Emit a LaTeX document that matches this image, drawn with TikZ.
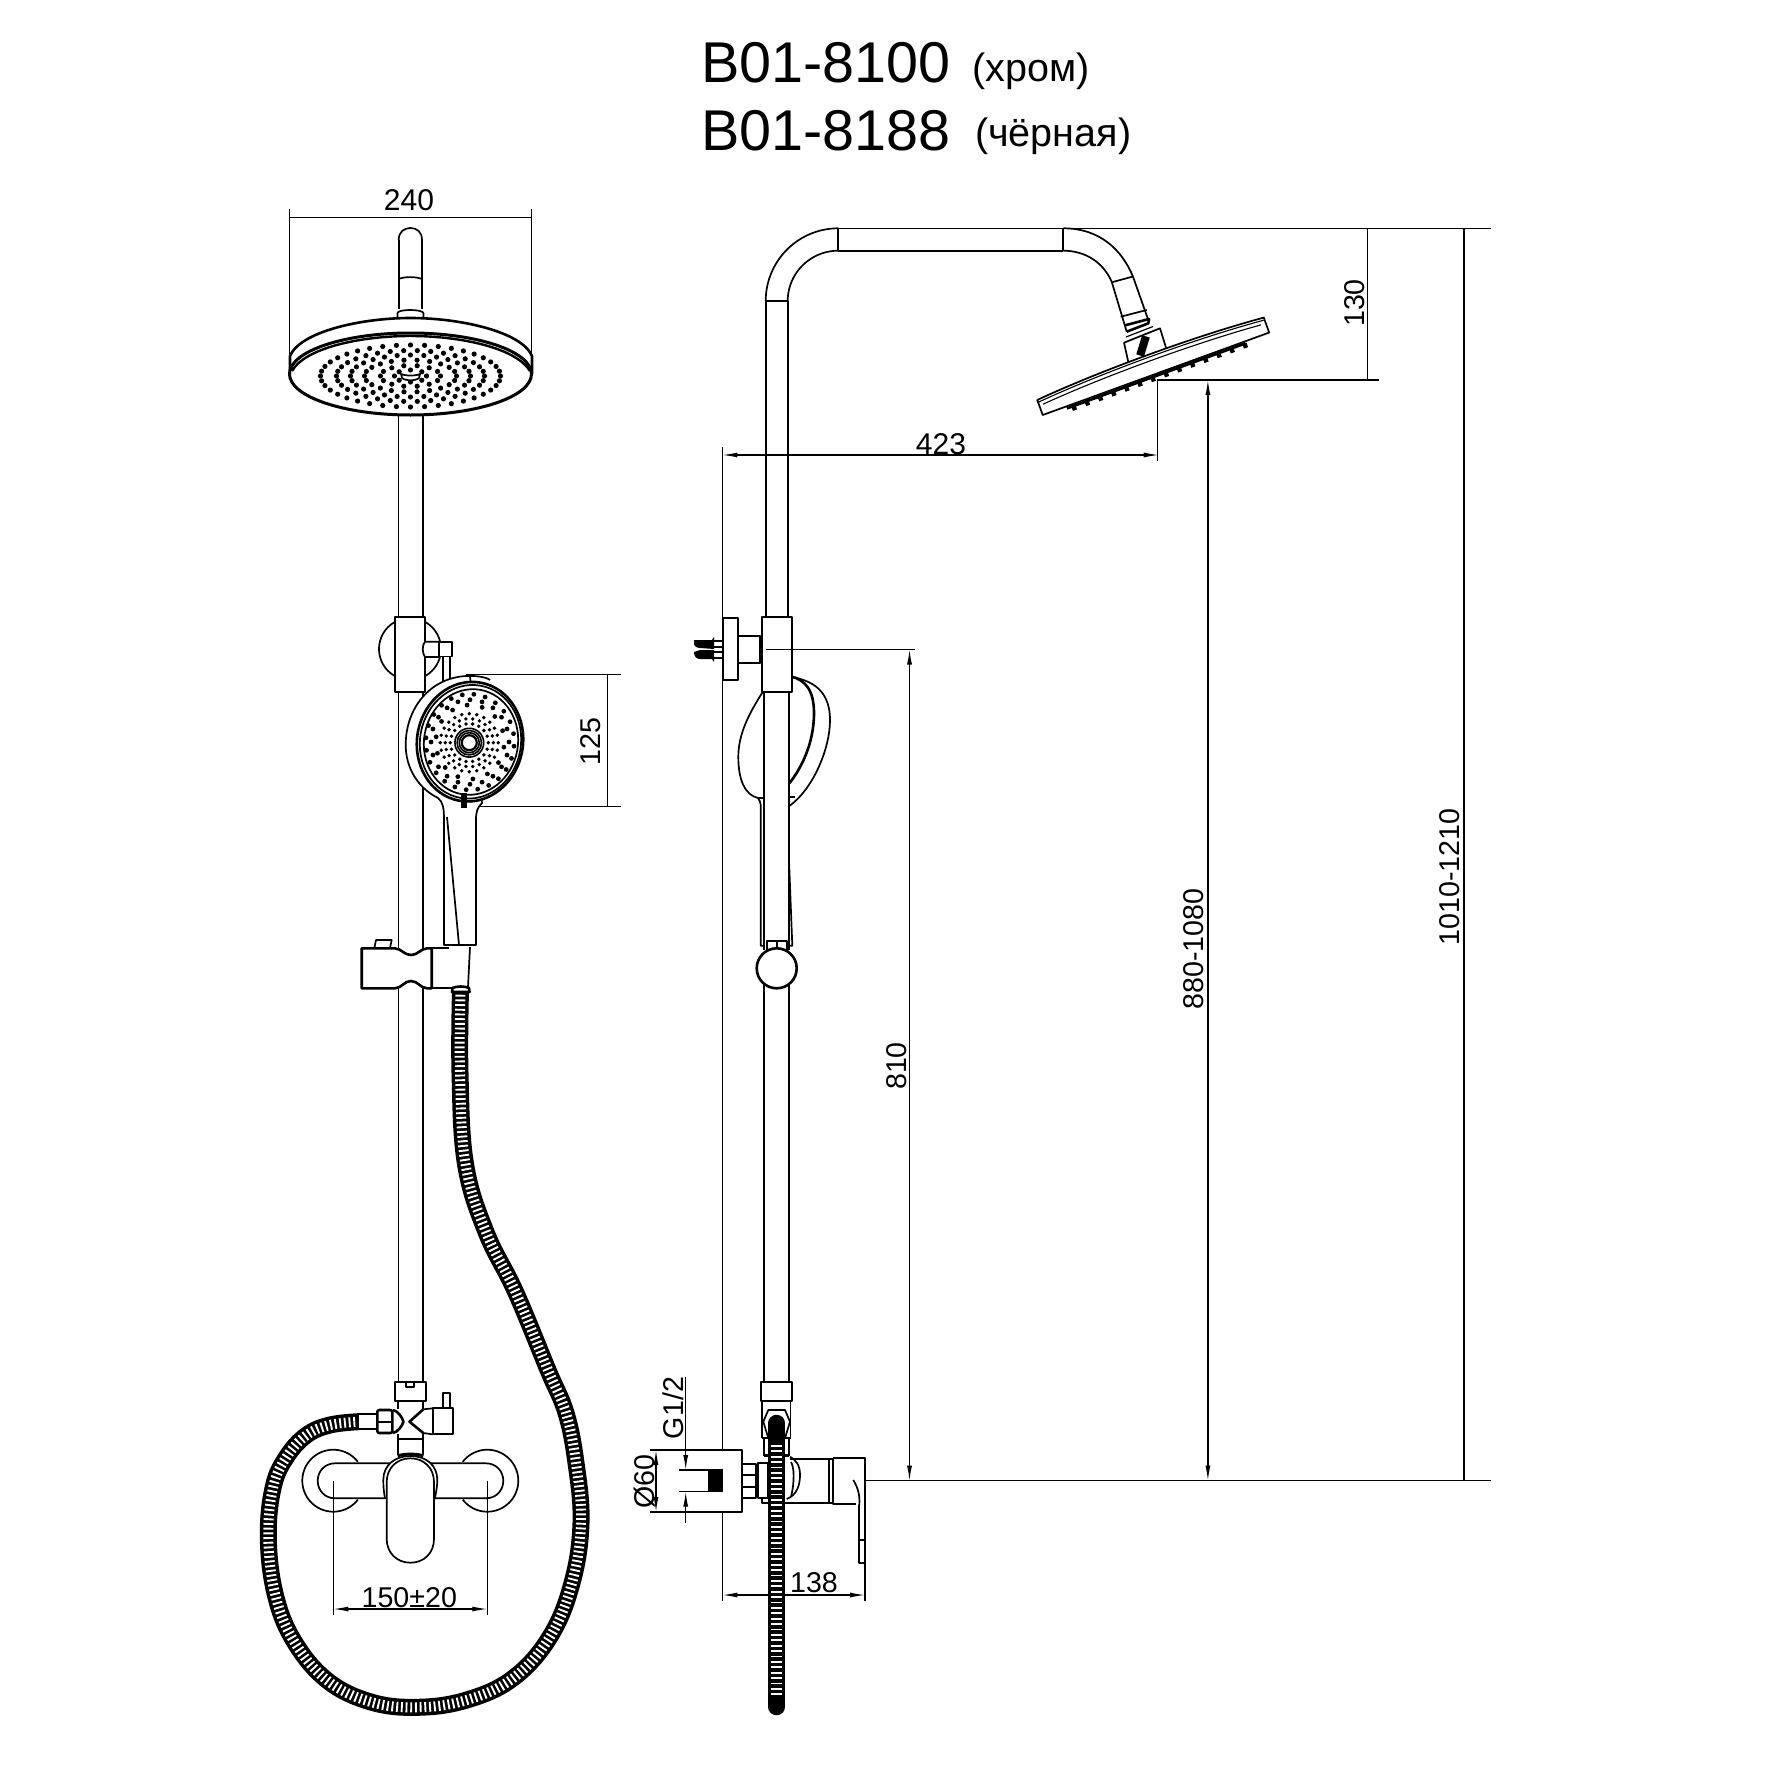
\documentclass[tikz,border=0pt]{standalone}
\usepackage{fontspec}
\setmainfont{Liberation Sans}
\usetikzlibrary{arrows.meta}
\tikzset{
  dim/.style={line width=1.2pt},
  arr/.style={line width=1.2pt,{Latex[length=15pt,width=5pt]}-{Latex[length=15pt,width=5pt]}},
  arrone/.style={line width=1.2pt,-{Latex[length=15pt,width=5pt]}},
  obj/.style={line width=1.7pt,line join=round},
  thick obj/.style={line width=2.6pt,line join=round},
  lab/.style={inner sep=0pt,font=\fontsize{28.6}{28.6}\selectfont},
  title/.style={inner sep=0pt,anchor=base west,font=\fontsize{57.5}{57.5}\selectfont},
  sub/.style={inner sep=0pt,anchor=base west,font=\fontsize{39.5}{39.5}\selectfont},
  wf/.style={fill=white}
}
\def\hosepath{plot[smooth,tension=.65] coordinates {(460.5,990) (460,1073) (465.5,1164) (486,1232) (515.6,1292) (548,1370) (566,1413) (576,1463) (581,1523) (572,1583) (550,1636.7) (513.3,1678) (466.7,1700) (416.7,1707.3) (370,1701.7) (326.7,1680) (293.3,1640) (275,1593.3) (268.3,1536.7) (273.3,1486.7) (286.7,1456.7) (306.7,1435) (330,1425) (358.3,1421.7)}}
\begin{document}
\begin{tikzpicture}[x=1pt,y=-1pt]
\useasboundingbox (0,0) rectangle (1768,1768);
\fill[white] (0,0) rectangle (1768,1768);
% Titles
\node[title] (t1) at (701,83) {B01-8100};
\node[title] (t2) at (701,151) {B01-8188};
\node[sub] (s1) at (972,82) {(хром)};
\node[sub] (s2) at (975,147) {(чёрная)};

%% ---------- FRONT VIEW ----------
% rod
\draw[obj] (398.7,240) -- (398.7,309) (422,240) -- (422,309);
\draw[obj] (398.7,240) .. controls (398.7,232) and (404,228) .. (410.4,228) .. controls (417,228) and (422,232) .. (422,240);
\draw[obj] (398.7,279) .. controls (404,276.5) and (416,276.5) .. (422,279);
\draw[obj] (397.5,317) -- (397.5,313) .. controls (398,309) and (422,309) .. (423.5,313) -- (423.5,317);
\draw[obj] (398.5,415) -- (398.5,1382) (423,415) -- (423,1382);
% back of head
\draw[thick obj,wf] (290,374) -- (290,356) .. controls (300,332) and (360,318) .. (410.5,318) .. controls (461,318) and (522,332) .. (532,356) -- (532,374);
\draw[thick obj,wf,line width=3pt] (410.5,374) ellipse[x radius=121,y radius=41];
\draw[line width=2.4pt] (292,371) .. controls (305,348) and (360,336) .. (410.5,336) .. controls (461,336) and (516,348) .. (530,371);
% head nozzles
\foreach \rx/\ry/\n in {90/31/40,74/25.5/34,60/21/28,46/16/22,30/10.5/14,16/6/8}{
  \foreach \k in {1,...,\n}{
    \fill ({410.5+\rx*cos(360*\k/\n)},{376+\ry*sin(360*\k/\n)}) circle[radius=2.6];
  }
}
\draw[obj,wf] (401,374) -- (402,378) .. controls (405,381) and (416,381) .. (419,378) -- (420,374) .. controls (416,376) and (405,376) .. (401,374);
% bracket disc and clamp
\draw[obj] (410,649) circle[radius=31];
\draw[obj,wf] (395.3,617.3) rectangle (425,691.7);
\draw[obj,wf] (425,641.7) -- (439,641.7) -- (439,657) -- (425,657) .. controls (422,653) and (422,645) .. (425,641.7);
\draw[obj,wf] (442.7,656) rectangle (450,685);
\draw[obj,wf] (439,641.7) rectangle (452,656.5);
% hand shower, front
\draw[obj,wf] (466,676) .. controls (430,678) and (405.7,708) .. (405.7,745) .. controls (405.7,768) and (418,788) .. (438,798) .. controls (443,802) and (444,808) .. (444,820) -- (444,945) -- (476,945) -- (476,820) .. controls (476,812) and (477,808) .. (482,803) -- (470,676) -- cycle;
\draw[obj] (447,817) -- (459,945);
\draw[obj] (444,945) -- (449,945);
\draw[thick obj,wf,rotate around={-10:(470,741.7)}] (470,741.7) ellipse[x radius=53,y radius=60];
\draw[obj,rotate around={-10:(470,741.7)}] (470.5,741.7) ellipse[x radius=50.5,y radius=57];
\draw[obj,rotate around={-10:(471,742)}] (471,742) ellipse[x radius=47,y radius=53];
\draw[obj] (466,676) .. controls (476,675.5) and (486,677) .. (490,680);
\fill (461,793) rectangle (466.7,808);
\foreach \r/\n/\s in {19/18/1.9,24/22/1.9,29/24/1.9}{
  \foreach \k in {1,...,\n}{
    \fill ({469.3+\r*cos(360*\k/\n)},{742.7+\r*sin(360*\k/\n)}) circle[radius=\s];
  }
}
\foreach \r/\n/\o in {36/14/8,41/20/0,46.5/24/5}{
  \foreach \k in {1,...,\n}{
    \fill ({470+\r*0.95*cos(360*\k/\n+\o)},{742+\r*1.03*sin(360*\k/\n+\o)}) circle[radius=2.4];
  }
}
\foreach \r in {10,12.2,14.4}{\draw[line width=1.6pt] (469.3,742.7) circle[radius=\r];}
\draw[line width=2.2pt] (469.3,742.7) circle[radius=7.5];
% slider
\draw[obj] (374,950) -- (376,940) -- (391.7,940) -- (390,948) .. controls (386,951) and (378,951) .. (374,950);
\draw[thick obj,wf] (361.7,948.3) -- (395,948.3) .. controls (402,949) and (404,955) .. (411,955) .. controls (418,955) and (420,949) .. (427,948.3) -- (431.7,948.3) -- (431.7,988.3) -- (427,988.3) .. controls (420,988) and (418,981) .. (411,981) .. controls (404,981) and (402,988) .. (395,988.3) -- (361.7,988.3) -- cycle;
\draw[obj] (431.7,948.3) -- (449,948.3) (431.7,988.3) -- (452,988.3);
\draw[obj] (470,947) -- (468,987);
% hose, front
\draw[line width=17pt,black,line cap=butt] \hosepath;
\draw[line width=10pt,white,dash pattern=on 1.9pt off 2.8pt] \hosepath;
\draw[thick obj,wf] (452,992) -- (452.5,988) .. controls (456,986) and (465,986) .. (469,988) -- (469.5,992) -- cycle;
% diverter
\draw[obj,wf] (395,1381.7) rectangle (425.7,1400.7);
\draw[obj] (405.7,1383) -- (405.7,1387.3) -- (414.3,1387.3) -- (414.3,1383);
\draw[obj] (397.7,1400.7) -- (397.7,1409) (423.3,1400.7) -- (423.3,1409.3) (397.7,1434) -- (397.7,1455) (423.3,1433) -- (423.3,1455) (397.7,1439.3) -- (423.3,1439.3);
\draw[obj,wf] (358,1414) rectangle (377.3,1429);
\draw[thick obj,wf,rounded corners=2pt] (377.3,1410) rectangle (392.3,1433);
\draw[obj] (377.3,1421.7) -- (392.3,1421.7);
\draw[thick obj] (393,1410) .. controls (398,1411) and (402,1417) .. (403.5,1421.7) .. controls (402,1426) and (398,1432) .. (393,1433);
\draw[thick obj] (423.3,1409.3) -- (409.5,1421.7) -- (423.3,1433);
\draw[obj] (423.3,1409.3) -- (432.7,1408.3) (423.3,1433) -- (432.7,1434.3);
\draw[obj,wf] (442.7,1392.7) rectangle (450,1408.3);
\draw[obj,wf] (432.7,1408.3) rectangle (453.3,1434.3);
% faucet, front
\draw[obj] plot[domain=37.6:322.4,samples=60] ({333.3+31*cos(\x)},{1480.7+31*sin(\x)});
\draw[obj] plot[domain=-142.4:142.4,samples=60] ({487.3+31*cos(\x)},{1480.7+31*sin(\x)});
\draw[obj] (395,1463.3) -- (335,1463.3) .. controls (325,1463.3) and (317.7,1471) .. (317.7,1480.8) .. controls (317.7,1490.5) and (325,1498.3) .. (335,1498.3) -- (395,1498.3);
\draw[obj] (425,1463.3) -- (486,1463.3) .. controls (496,1463.3) and (503.3,1471) .. (503.3,1480.8) .. controls (503.3,1490.5) and (496,1498.3) .. (486,1498.3) -- (425,1498.3);
\draw[obj,wf] (385,1498) .. controls (383.8,1492) and (383.3,1487) .. (383.3,1480) .. controls (383.3,1465) and (395,1456) .. (410.35,1456) .. controls (426,1456) and (437.3,1465) .. (437.3,1480) .. controls (437.3,1487) and (436,1492) .. (435,1498) -- cycle;
\draw[line width=3pt] (397.7,1456) .. controls (403,1453.5) and (418,1453.5) .. (423.3,1456);
\draw[obj,wf] (386.7,1482) .. controls (386.7,1468) and (397,1458.3) .. (410.35,1458.3) .. controls (424,1458.3) and (434,1468) .. (434,1482) -- (434,1539) .. controls (434,1553) and (424,1562.7) .. (410.35,1562.7) .. controls (397,1562.7) and (386.7,1553) .. (386.7,1539) -- cycle;
% dims, front
\draw[dim] (289.5,209) -- (289.5,356) (531.5,209) -- (531.5,356) (289.5,217.3) -- (531.5,217.3);
\node[lab,anchor=base,font=\fontsize{30}{30}\selectfont] (d240) at (409,210.5) {240};
\draw[dim] (466,674.3) -- (620.7,674.3) (478,806.3) -- (620.7,806.3) (607.3,674.3) -- (607.3,806.3);
\node[lab,rotate=90] (d125) at (591,741.7) {125};
\draw[dim] (333.3,1480.7) -- (333.3,1615) (487.3,1480.7) -- (487.3,1615);
\draw[arr] (333.3,1609) -- (487.3,1609);
\node[lab,anchor=base] (d150) at (409.3,1607.5) {150±20};

%% ---------- SIDE VIEW ----------
% riser
\draw[obj] (765.7,301) -- (765.7,617) (787.7,301) -- (787.7,617) (765.7,301) -- (787.7,301);
\draw[obj] plot[domain=180:270,samples=40] ({838.3+72.6*cos(\x)},{301+72.7*sin(\x)});
\draw[obj] plot[domain=180:270,samples=40] ({838.3+50.6*cos(\x)},{301+50.3*sin(\x)});
\draw[obj] (838.3,228.3) -- (838.3,250.7);
\draw[line width=1.4pt] (838.3,228.3) -- (1063.3,228.3);
\draw[line width=2.2pt] (838.3,250.7) -- (1063.3,250.7);
\draw[obj] (1063.3,228.3) -- (1063.3,250.7);
\draw[obj] (1063.3,228.3) .. controls (1100,228.3) and (1122,250) .. (1133,276.7) -- (1148.3,320);
\draw[obj] (1063.3,250.7) .. controls (1085,250.7) and (1103,262) .. (1111.7,281.7) -- (1126.7,331.7);
\draw[obj] (1111.7,282.3) -- (1132.3,276.7) (1120.7,316.7) -- (1146.7,310);
\draw[thick obj] (1126.7,331.7) -- (1148.3,323.3) -- (1149,319) -- (1124.5,325.5);
% head mount
\draw[obj,wf] (1128.3,362) -- (1124,342.7) -- (1160,328.3) -- (1166.7,350);
\draw[line width=1.2pt] (1126,337) -- (1153,326.5);
\fill[rotate around={-17:(1143.3,345)}] (1139.3,336) rectangle (1147.3,356);
% head plate
\begin{scope}[shift={(1042.7,415)},rotate=20]
  \draw[obj,wf] (0,-16) .. controls (70,-22) and (170,-22) .. (240,-16) .. controls (241.5,-16) and (241.5,-16) .. (241,-14) -- (241,0) -- (0,0) -- cycle;
  \draw[line width=1.1pt] (0,-13.5) .. controls (70,-19.5) and (170,-19.5) .. (240,-13.5);
  \draw[line width=1.1pt] (4,-10) .. controls (70,-15.5) and (170,-15.5) .. (236,-10);
  \draw[line width=2.8pt] (25,2) -- (215,2);
  \foreach \s in {32,46,...,215}{\fill (\s-2.2,1.5) rectangle (\s+2.2,6.5);}
\end{scope}
% flange and clamp, side
\draw[obj,wf] (722.7,618.3) rectangle (737.7,680.3);
\draw[obj,wf] (737.7,635.7) rectangle (760,663.3);
\draw[obj] (760,636) .. controls (767,640) and (767,658) .. (760,663);
\draw[obj,wf] (761.7,617) rectangle (791.7,692);
\fill (694,640) -- (712,640) -- (714,637) -- (714,649) -- (700,648) .. controls (696,648) and (694,645) .. (694,644) -- cycle;
\fill (694,652) -- (700,650) -- (714,650) -- (714,662) -- (712,659) -- (700,659) .. controls (696,659) and (694,656) .. cycle;
\draw[line width=1.2pt] (714,641) -- (722.7,641) (714,647) -- (722.7,647) (714,652) -- (722.7,652) (714,658) -- (722.7,658);
% rod, lower
\draw[obj] (764.3,692) -- (764.3,950) (789,692) -- (789,950);
\draw[obj] (764.3,952) -- (764.3,1382) (789,952) -- (789,1382);
% hand shower side
\draw[obj] (762.7,692) .. controls (748,715) and (738.3,735) .. (738.3,756.7) .. controls (738.3,780) and (745,795) .. (758,798) -- (764,798);
\draw[obj] (758,798) .. controls (761,802) and (761,806) .. (760.7,811) -- (760.7,945.7) -- (764.3,945.7);
\draw[obj] (791.7,676.7) .. controls (805,680) and (830,685) .. (830,720) .. controls (830,750) and (812,790) .. (789.3,806);
\draw[thick obj] (791.7,676.7) .. controls (805,680) and (814,690) .. (814,713) .. controls (814,745) and (800,770) .. (789.3,783.3);
\draw[obj] (789.3,797) -- (795,797);
\draw[obj] (789,860) -- (792.3,945.7) -- (789,945.7);
\draw[obj,wf] (767.3,950) -- (767.3,941) -- (786.7,941) -- (786.7,950);
\draw[obj] (777,941) -- (777,950);
\draw[line width=2.6pt,fill=white] (776.7,968.3) circle[radius=20];
% lower side fittings
\draw[obj,wf] (761.3,1381.7) rectangle (792,1400.7);
\draw[obj] (761.7,1400.7) -- (761.7,1438) (790.5,1400.7) -- (790.5,1438);
\draw[obj] (761.7,1438) -- (790.5,1438);
\draw[obj] (764.3,1438) -- (764.3,1456) (789,1438) -- (789,1456);
\draw[line width=3pt] (764.3,1455) -- (789,1455);
\draw[obj] (768.3,1410) -- (785,1410) -- (790,1421.7) -- (785,1438) -- (768.3,1438) -- (763.3,1421.7) -- cycle;
% wall part
\draw[obj] (650,1450) -- (741.7,1450) -- (741.7,1512) -- (650,1512);
\draw[obj] (741.7,1464) rectangle (756,1498);
\draw[obj] (741.7,1475) -- (756,1475) (741.7,1486.7) -- (756,1486.7);
\draw[obj] (758.3,1463) rectangle (768.3,1498);
\draw[obj] (768.3,1498) -- (762,1498) -- (762,1502.7) -- (833.3,1502.7);
\draw[obj] (790,1459.3) -- (833.3,1459.3);
\draw[obj] (790,1456.7) .. controls (796,1460) and (800,1465) .. (800,1475) .. controls (800,1485) and (797,1495) .. (786.7,1499);
\draw[obj] (791,1462) .. controls (794,1467) and (795,1480) .. (791,1497);
\draw[obj] (829.3,1459.3) -- (829.3,1502.7);
\draw[obj] (833.3,1457.7) -- (865,1457.7) -- (865,1563) -- (859.3,1563) -- (859.3,1505);
\draw[obj] (833.3,1457.7) -- (833.3,1504) -- (856,1504);
\draw[obj] (853.3,1480) .. controls (858,1488) and (860,1495) .. (859.3,1505);
\draw[line width=1.2pt] (859.3,1540) -- (865,1540);
\fill (708.3,1470) rectangle (723.3,1491.7);
% hose, side
\draw[line width=16.5pt,line cap=round] (776.7,1423) -- (776.7,1707);
\draw[line width=11.5pt,white,dash pattern=on 1.8pt off 3.6pt] (776.7,1445) -- (776.7,1697);
% dims, side
\draw[dim] (722.4,447) -- (722.4,1450) (722.4,1512) -- (722.4,1600.7);
\draw[arr] (722.4,455) -- (1158.7,455);
\node[lab,anchor=base,font=\fontsize{30}{30}\selectfont] (d423) at (941,454) {423};
\draw[dim] (1156.7,380) -- (1379,380) (1157.5,380) -- (1157.5,461);
\draw[dim] (1063.3,228.3) -- (1491,228.3) (1367.5,228.3) -- (1367.5,380);
\node[lab,rotate=90] (d130) at (1355,303) {130};
\draw[dim] (766,649.5) -- (915,649.5);
\draw[dim] (865,1480.7) -- (1491,1480.7);
\draw[arr] (909.5,649.5) -- (909.5,1480.7);
\node[lab,rotate=90] (d810) at (897,1066) {810};
\draw[arr] (1207.9,380) -- (1207.9,1480.7);
\node[lab,rotate=90] (d880) at (1193.5,949) {880-1080};
\draw[dim] (1464,228.3) -- (1464,1480.7);
\node[lab,rotate=90] (d1010) at (1449.7,877) {1010-1210};
\draw[dim] (865,1503) -- (865,1600.7);
\draw[arr] (722.4,1595) -- (865,1595);
\node[lab,anchor=base] (d138) at (814,1592) {138};
\draw[arr] (656,1450) -- (656,1512);
\node[lab,rotate=90] (d60) at (645,1481.7) {Ø60};
\draw[dim] (679,1470) -- (723,1470) (679,1491.7) -- (723,1491.7);
\draw[arrone] (685.7,1377) -- (685.7,1470);
\draw[arrone] (685.7,1522.7) -- (685.7,1491.7);
\node[lab,rotate=90] (dg) at (673.3,1408) {G1/2};
\end{tikzpicture}
\end{document}
